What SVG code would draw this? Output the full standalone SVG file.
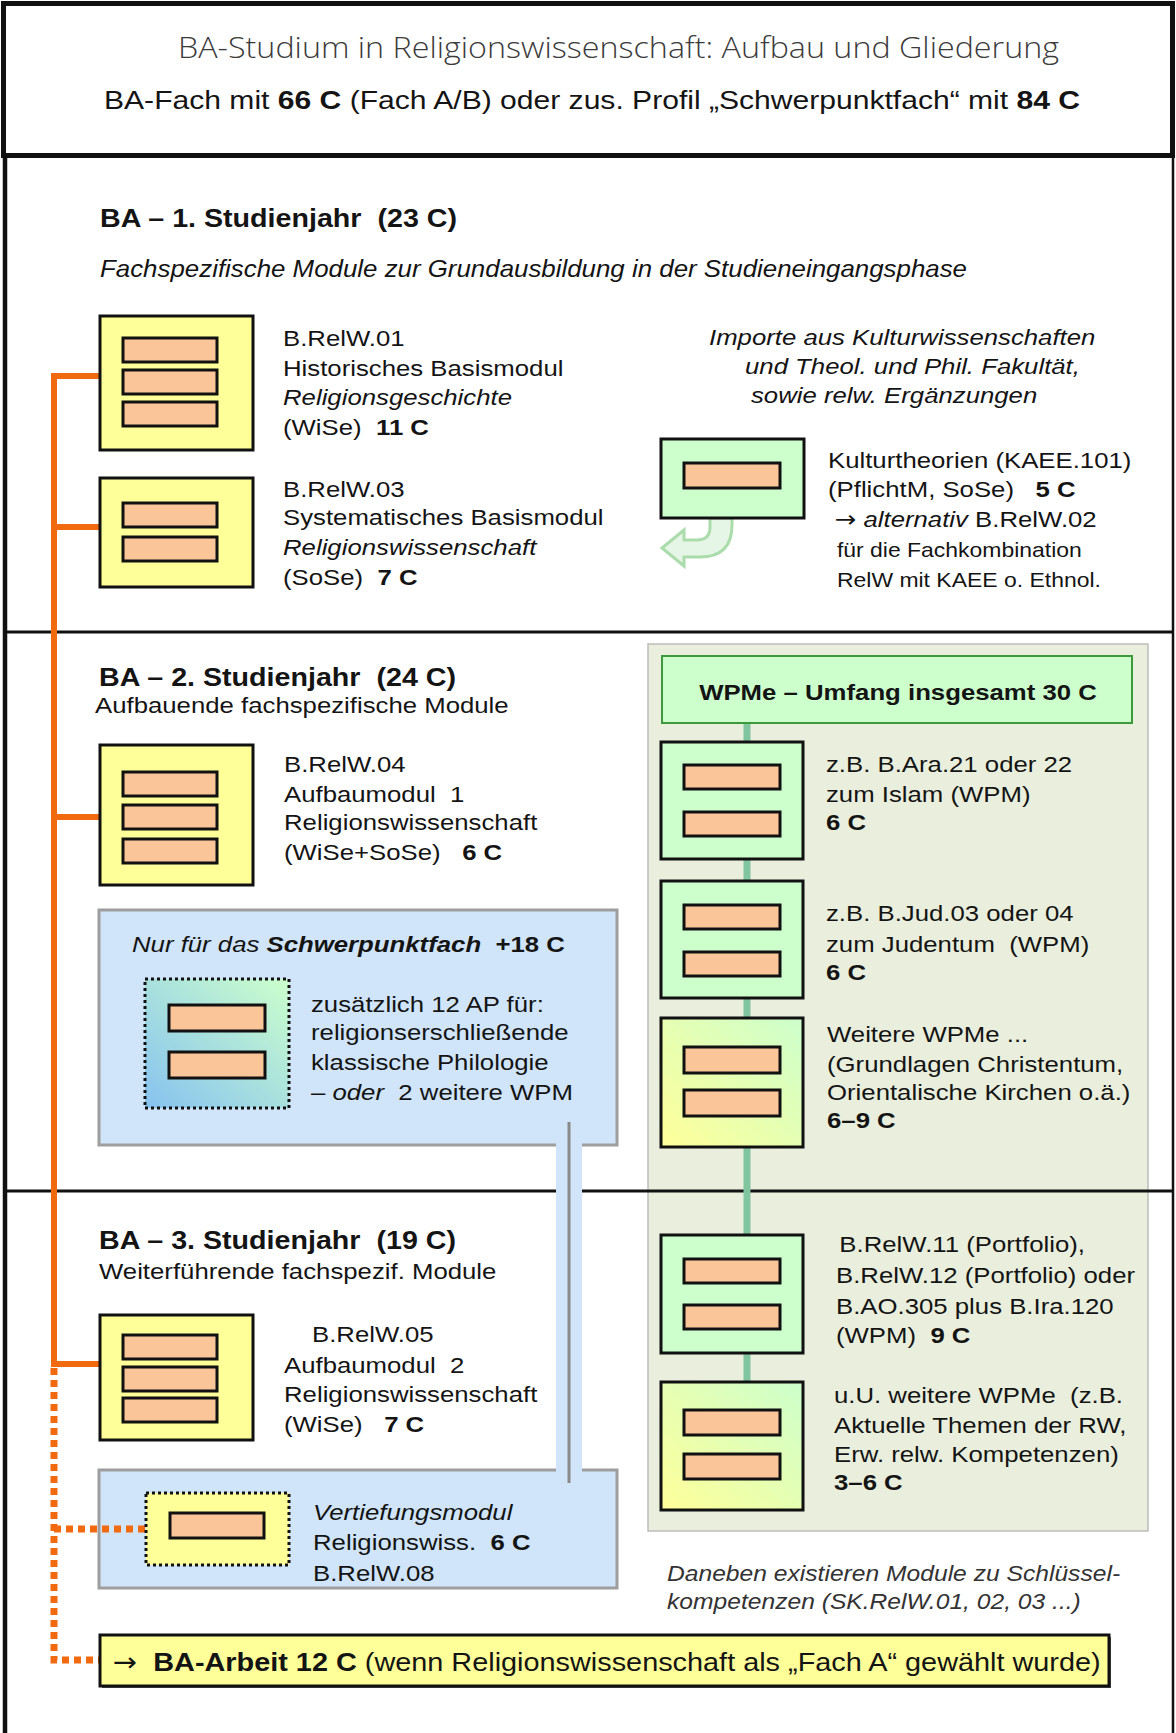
<svg xmlns="http://www.w3.org/2000/svg" width="1176" height="1733" viewBox="0 0 1176 1733">
<defs>
<linearGradient id="gy" x1="0" y1="1" x2="1" y2="0"><stop offset="0" stop-color="#ffff99"/><stop offset="1" stop-color="#ccffcc"/></linearGradient>
<linearGradient id="gb" x1="0" y1="1" x2="1" y2="0"><stop offset="0" stop-color="#86c2f0"/><stop offset="1" stop-color="#ccffcc"/></linearGradient>
<style>
text{font-family:"Liberation Sans",Arial,sans-serif;font-size:23px;fill:#141414;white-space:pre}
.b{font-weight:bold}
.i{font-style:italic}
.h{font-size:26px;font-weight:bold}
.s{font-size:20.5px}
.sub{font-size:25px}
.note{font-size:22px;fill:#333333}
.ba{font-size:26px}
.ar{font-family:"DejaVu Sans",sans-serif;font-style:normal;font-weight:normal}
.title{font-family:"Open Sans","Liberation Sans",sans-serif;font-weight:300;font-size:29px;fill:#3b3b3b}
.bar{fill:#fbc59a;stroke:#111;stroke-width:3}
.ym{fill:#ffff99;stroke:#111;stroke-width:3}
.gm{fill:#ccffcc;stroke:#111;stroke-width:3}
.blue{fill:#d0e5f9;stroke:#9e9e9e;stroke-width:3}
.sec{stroke:#111;stroke-width:3}
.or{stroke:#f26a10;stroke-width:6;fill:none}
.ord{stroke:#f26a10;stroke-width:7;fill:none;stroke-dasharray:7 5}
.dot{stroke:#111;stroke-width:3;stroke-dasharray:3 3}
</style>
</defs>
<rect x="0" y="0" width="1176" height="1733" fill="#ffffff"/>

<g id="header">
<rect x="3.5" y="3.5" width="1169" height="152" fill="#ffffff" stroke="#111" stroke-width="5"/>
<text class="title" x="178" y="58" textLength="881" lengthAdjust="spacingAndGlyphs">BA-Studium in Religionswissenschaft: Aufbau und Gliederung</text>
<text class="sub" x="104" y="109" textLength="976" lengthAdjust="spacingAndGlyphs">BA-Fach mit <tspan class="b">66 C</tspan> (Fach A/B) oder zus. Profil „Schwerpunktfach“ mit <tspan class="b">84 C</tspan></text>
</g>

<g id="panels">
<rect x="648" y="644" width="500" height="887" fill="#e9efdc" stroke="#bdbdbd" stroke-width="1.5"/>
<rect class="blue" x="99" y="910" width="518" height="235"/>
<rect class="blue" x="99" y="1470" width="518" height="118"/>
</g>

<g id="frame">
<line x1="5" y1="155" x2="5" y2="1733" stroke="#111" stroke-width="4.5"/>
<line x1="1173" y1="155" x2="1173" y2="1733" stroke="#111" stroke-width="2.5"/>
<line class="sec" x1="5" y1="632" x2="1173" y2="632"/>
<line class="sec" x1="5" y1="1191" x2="1173" y2="1191"/>
</g>

<g id="connectors">
<rect x="556" y="1140" width="26" height="335" fill="#d0e5f9"/>
<line x1="569" y1="1122" x2="569" y2="1483" stroke="#8a8a8a" stroke-width="3"/>
<line x1="747" y1="723" x2="747" y2="1382" stroke="#80c4a0" stroke-width="7"/>
<path class="or" d="M100 376 H54 V1364 H100"/>
<path class="or" d="M54 527 H100"/>
<path class="or" d="M54 817 H100"/>
<path class="ord" d="M54 1368 V1660 H100"/>
<path class="ord" d="M54 1529 H146"/>
<path d="M710 518 L710 527 Q710 540 697 540 L684 540 L684 530 L662 548 L684 566 L684 557 L700 557 Q732 557 732 525 L732 518 Z" fill="#e6f6e6" stroke="#abdcab" stroke-width="3"/>
</g>

<g id="year1">
<text class="h" x="100" y="227" textLength="357" lengthAdjust="spacingAndGlyphs">BA – 1. Studienjahr  (23 C)</text>
<g transform="translate(100 0) scale(1.125 1)"><text class="i" x="0" y="277">Fachspezifische Module zur Grundausbildung in der Studieneingangsphase</text></g>
</g>

<g id="n01">
<rect class="ym" x="100" y="316" width="153" height="134"/>
<rect class="bar" x="123" y="338" width="94" height="24"/>
<rect class="bar" x="123" y="370" width="94" height="24"/>
<rect class="bar" x="123" y="402" width="94" height="24"/>
<g transform="translate(283 0) scale(1.12 1)">
<text x="0" y="346">B.RelW.01</text>
<text x="0" y="376">Historisches Basismodul</text>
<text class="i" x="0" y="405">Religionsgeschichte</text>
<text x="0" y="435">(WiSe)  <tspan class="b">11 C</tspan></text>
</g>
</g>

<g id="n03">
<rect class="ym" x="100" y="478" width="153" height="109"/>
<rect class="bar" x="123" y="503" width="94" height="24"/>
<rect class="bar" x="123" y="537" width="94" height="24"/>
<g transform="translate(283 0) scale(1.12 1)">
<text x="0" y="497">B.RelW.03</text>
<text x="0" y="525">Systematisches Basismodul</text>
<text class="i" x="0" y="555">Religionswissenschaft</text>
<text x="0" y="585">(SoSe)  <tspan class="b">7 C</tspan></text>
</g>
</g>

<g id="imports">
<g transform="translate(709 0) scale(1.12 1)"><text class="i" x="0" y="345">Importe aus Kulturwissenschaften</text></g>
<g transform="translate(745 0) scale(1.12 1)"><text class="i" x="0" y="374">und Theol. und Phil. Fakultät,</text></g>
<g transform="translate(751 0) scale(1.12 1)"><text class="i" x="0" y="403">sowie relw. Ergänzungen</text></g>
</g>

<g id="kaee">
<rect class="gm" x="661" y="439" width="143" height="79"/>
<rect class="bar" x="684" y="463" width="96" height="25"/>
<g transform="translate(828 0) scale(1.12 1)">
<text x="0" y="468">Kulturtheorien (KAEE.101)</text>
<text x="0" y="497">(PflichtM, SoSe)   <tspan class="b">5 C</tspan></text>
<text x="6" y="527"><tspan class="ar">→</tspan> <tspan class="i">alternativ</tspan> B.RelW.02</text>
<text class="s" x="8" y="557">für die Fachkombination</text>
<text class="s" x="8" y="587">RelW mit KAEE o. Ethnol.</text>
</g>
</g>

<g id="year2">
<text class="h" x="99" y="686" textLength="357" lengthAdjust="spacingAndGlyphs">BA – 2. Studienjahr  (24 C)</text>
<g transform="translate(95 0) scale(1.12 1)"><text x="0" y="713">Aufbauende fachspezifische Module</text></g>
</g>

<g id="n04">
<rect class="ym" x="100" y="745" width="153" height="140"/>
<rect class="bar" x="123" y="772" width="94" height="24"/>
<rect class="bar" x="123" y="805" width="94" height="24"/>
<rect class="bar" x="123" y="839" width="94" height="24"/>
<g transform="translate(284 0) scale(1.12 1)">
<text x="0" y="772">B.RelW.04</text>
<text x="0" y="802">Aufbaumodul  1</text>
<text x="0" y="830">Religionswissenschaft</text>
<text x="0" y="860">(WiSe+SoSe)   <tspan class="b">6 C</tspan></text>
</g>
</g>

<g id="schwerpunkt">
<g transform="translate(132 0) scale(1.12 1)"><text x="0" y="952"><tspan class="i">Nur für das </tspan><tspan class="b i">Schwerpunktfach</tspan><tspan class="b">  +18 C</tspan></text></g>
<rect x="145" y="979" width="144" height="129" fill="url(#gb)" class="dot"/>
<rect class="bar" x="169" y="1005" width="96" height="26"/>
<rect class="bar" x="169" y="1052" width="96" height="26"/>
<g transform="translate(311 0) scale(1.12 1)">
<text x="0" y="1012">zusätzlich 12 AP für:</text>
<text x="0" y="1040">religionserschließende</text>
<text x="0" y="1070">klassische Philologie</text>
<text x="0" y="1100">– <tspan class="i">oder</tspan>  2 weitere WPM</text>
</g>
</g>

<g id="wpme-head">
<rect x="662" y="656" width="470" height="67" fill="#ccffcc" stroke="#3c9a3c" stroke-width="2"/>
<g transform="translate(898 0) scale(1.12 1)"><text class="b" x="0" y="700" text-anchor="middle">WPMe – Umfang insgesamt 30 C</text></g>
</g>

<g id="w-ara">
<rect class="gm" x="661" y="742" width="142" height="117"/>
<rect class="bar" x="684" y="765" width="96" height="24"/>
<rect class="bar" x="684" y="812" width="96" height="24"/>
<g transform="translate(826 0) scale(1.12 1)">
<text x="0" y="772">z.B. B.Ara.21 oder 22</text>
<text x="0" y="802">zum Islam (WPM)</text>
<text class="b" x="0" y="830">6 C</text>
</g>
</g>

<g id="w-jud">
<rect class="gm" x="661" y="881" width="142" height="117"/>
<rect class="bar" x="684" y="905" width="96" height="24"/>
<rect class="bar" x="684" y="952" width="96" height="24"/>
<g transform="translate(826 0) scale(1.12 1)">
<text x="0" y="921">z.B. B.Jud.03 oder 04</text>
<text x="0" y="952">zum Judentum  (WPM)</text>
<text class="b" x="0" y="980">6 C</text>
</g>
</g>

<g id="w-weitere">
<rect x="661" y="1018" width="142" height="129" fill="url(#gy)" stroke="#111" stroke-width="3"/>
<rect class="bar" x="684" y="1047" width="96" height="26"/>
<rect class="bar" x="684" y="1090" width="96" height="26"/>
<g transform="translate(827 0) scale(1.12 1)">
<text x="0" y="1042">Weitere WPMe ...</text>
<text x="0" y="1072">(Grundlagen Christentum,</text>
<text x="0" y="1100">Orientalische Kirchen o.ä.)</text>
<text class="b" x="0" y="1128">6–9 C</text>
</g>
</g>

<g id="year3">
<text class="h" x="99" y="1249" textLength="357" lengthAdjust="spacingAndGlyphs">BA – 3. Studienjahr  (19 C)</text>
<g transform="translate(99 0) scale(1.12 1)"><text x="0" y="1279">Weiterführende fachspezif. Module</text></g>
</g>

<g id="n05">
<rect class="ym" x="100" y="1315" width="153" height="125"/>
<rect class="bar" x="123" y="1335" width="94" height="24"/>
<rect class="bar" x="123" y="1367" width="94" height="24"/>
<rect class="bar" x="123" y="1398" width="94" height="24"/>
<g transform="translate(284 0) scale(1.12 1)">
<text x="25" y="1342">B.RelW.05</text>
<text x="0" y="1373">Aufbaumodul  2</text>
<text x="0" y="1402">Religionswissenschaft</text>
<text x="0" y="1432">(WiSe)   <tspan class="b">7 C</tspan></text>
</g>
</g>

<g id="n08">
<rect x="146" y="1493" width="143" height="72" fill="#ffff99" class="dot"/>
<rect class="bar" x="170" y="1513" width="94" height="25"/>
<g transform="translate(313 0) scale(1.12 1)">
<text class="i" x="0" y="1520">Vertiefungsmodul</text>
<text x="0" y="1550">Religionswiss.  <tspan class="b">6 C</tspan></text>
<text x="0" y="1581">B.RelW.08</text>
</g>
</g>

<g id="w-relw11">
<rect class="gm" x="661" y="1235" width="142" height="118"/>
<rect class="bar" x="684" y="1259" width="96" height="24"/>
<rect class="bar" x="684" y="1305" width="96" height="24"/>
<g transform="translate(836 0) scale(1.12 1)">
<text x="3" y="1252">B.RelW.11 (Portfolio),</text>
<text x="0" y="1283">B.RelW.12 (Portfolio) oder</text>
<text x="0" y="1314">B.AO.305 plus B.Ira.120</text>
<text x="0" y="1343">(WPM)  <tspan class="b">9 C</tspan></text>
</g>
</g>

<g id="w-uu">
<rect x="661" y="1382" width="142" height="128" fill="url(#gy)" stroke="#111" stroke-width="3"/>
<rect class="bar" x="684" y="1410" width="96" height="25"/>
<rect class="bar" x="684" y="1454" width="96" height="25"/>
<g transform="translate(834 0) scale(1.12 1)">
<text x="0" y="1403">u.U. weitere WPMe  (z.B.</text>
<text x="0" y="1433">Aktuelle Themen der RW,</text>
<text x="0" y="1462">Erw. relw. Kompetenzen)</text>
<text class="b" x="0" y="1490">3–6 C</text>
</g>
</g>

<g id="note">
<g transform="translate(667 0) scale(1.12 1)">
<text class="i note" x="0" y="1581">Daneben existieren Module zu Schlüssel-</text>
<text class="i note" x="0" y="1609">kompetenzen (SK.RelW.01, 02, 03 ...)</text>
</g>
</g>

<g id="ba-arbeit">
<rect x="102" y="1637" width="1009" height="51" fill="#555555"/>
<rect x="100" y="1635" width="1009" height="51" fill="#ffff99" stroke="#111" stroke-width="3"/>
<g transform="translate(113 0) scale(1.11 1)"><text class="ba" x="0" y="1671"><tspan class="ar">→</tspan>  <tspan class="b">BA-Arbeit 12 C</tspan> (wenn Religionswissenschaft als „Fach A“ gewählt wurde)</text></g>
</g>
</svg>
